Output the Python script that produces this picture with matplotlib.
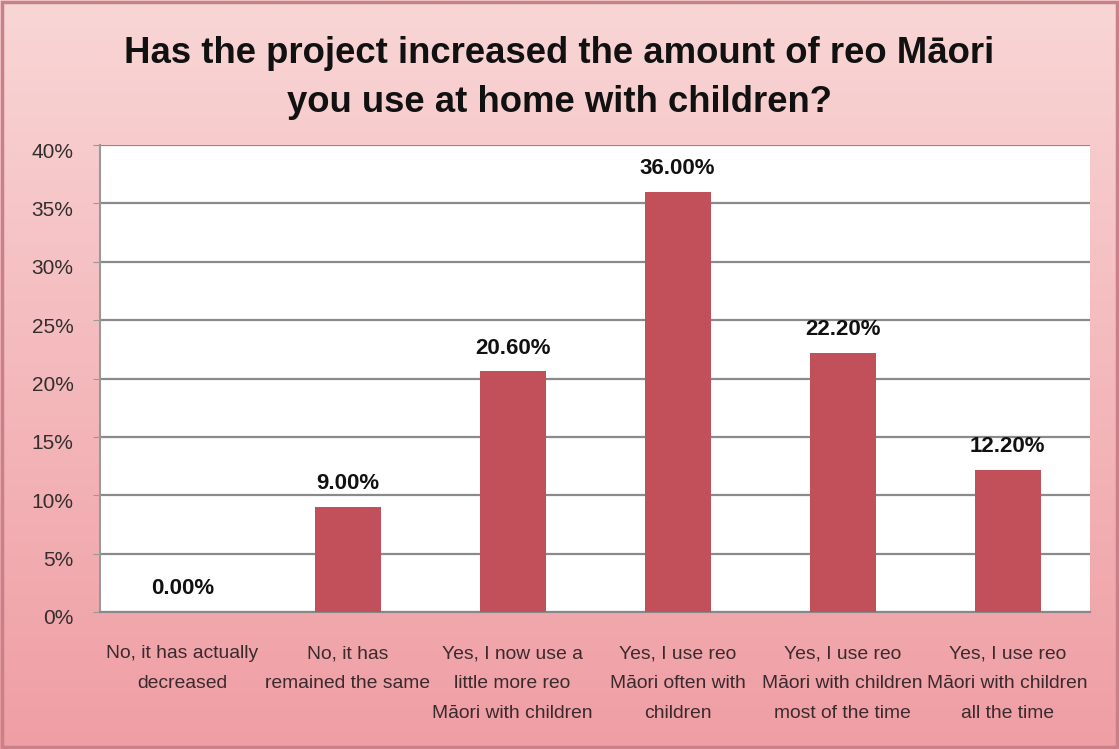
import numpy as np
import matplotlib
matplotlib.use("Agg")
import matplotlib.pyplot as plt
import matplotlib.transforms as mtransforms
from matplotlib.colors import LinearSegmentedColormap

categories = [
    "No, it has actually\ndecreased",
    "No, it has\nremained the same",
    "Yes, I now use a\nlittle more reo\nMāori with children",
    "Yes, I use reo\nMāori often with\nchildren",
    "Yes, I use reo\nMāori with children\nmost of the time",
    "Yes, I use reo\nMāori with children\nall the time",
]
values = [0.00, 9.00, 20.60, 36.00, 22.20, 12.20]
yticks = [0, 5, 10, 15, 20, 25, 30, 35, 40]
title = "Has the project increased the amount of reo Māori\nyou use at home with children?"

plt.rcParams["font.family"] = ["Liberation Sans", "DejaVu Sans"]

fig = plt.figure(figsize=(11.19, 7.49), dpi=100)

# pink gradient backdrop
bg = fig.add_axes([0, 0, 1, 1], zorder=-10)
cmap = LinearSegmentedColormap.from_list("pink", ["#f9d6d6", "#f4b9bc", "#ef9ea4"])
grad = np.linspace(0, 1, 256).reshape(-1, 1)
bg.imshow(grad, aspect="auto", cmap=cmap, extent=[0, 1, 0, 1], origin="upper")
bg.set_xlim(0, 1)
bg.set_ylim(0, 1)
bg.axis("off")
bg.add_patch(plt.Rectangle((0.002, 0.003), 0.996, 0.994, fill=False,
                           edgecolor="#c98088", linewidth=2.5))

W, H = 1119, 749
left, right, top, bottom = 100, 1090, 145, 612
ax = fig.add_axes([left / W, 1 - bottom / H, (right - left) / W, (bottom - top) / H])
ax.set_facecolor("white")

x = np.arange(len(categories))
ax.bar(x, values, width=0.4, color="#c2505a", zorder=3)
for xi, v in zip(x, values):
    ax.text(xi, v + 1.1, f"{v:.2f}%", ha="center", va="bottom",
            fontsize=16, fontweight="bold", color="#111111", zorder=4)

ax.set_xlim(-0.5, len(categories) - 0.5)
ax.set_ylim(0, 40)
ax.set_yticks(yticks)
ax.set_yticklabels([f"{t}%" for t in yticks], fontsize=15, color="#332e2e")
ax.yaxis.grid(True, color="#8a8a8a", linewidth=1.6, zorder=1)
ax.set_axisbelow(True)
ax.tick_params(axis="y", length=5, color="#999999", pad=14)
ax.tick_params(axis="x", length=0, pad=24)
ax.set_xticks(x)
ax.set_xticklabels(categories, fontsize=13.9, color="#3b2a2d", linespacing=2.0,
                   va="top")
# y labels sit slightly below their gridlines
shift = mtransforms.ScaledTranslation(0, -5 / 100, fig.dpi_scale_trans)
for lbl in ax.get_yticklabels():
    lbl.set_transform(lbl.get_transform() + shift)
for side in ["top", "right"]:
    ax.spines[side].set_visible(False)
ax.spines["left"].set_color("#999999")
ax.spines["left"].set_linewidth(1.5)
ax.spines["bottom"].set_color("#888888")
ax.spines["bottom"].set_linewidth(1.5)

fig.text(0.5, 1 - 78 / H, title, ha="center", va="center", fontsize=26.3,
         fontweight="bold", color="#111111", linespacing=1.55)

fig.savefig("out.png", dpi=100)
